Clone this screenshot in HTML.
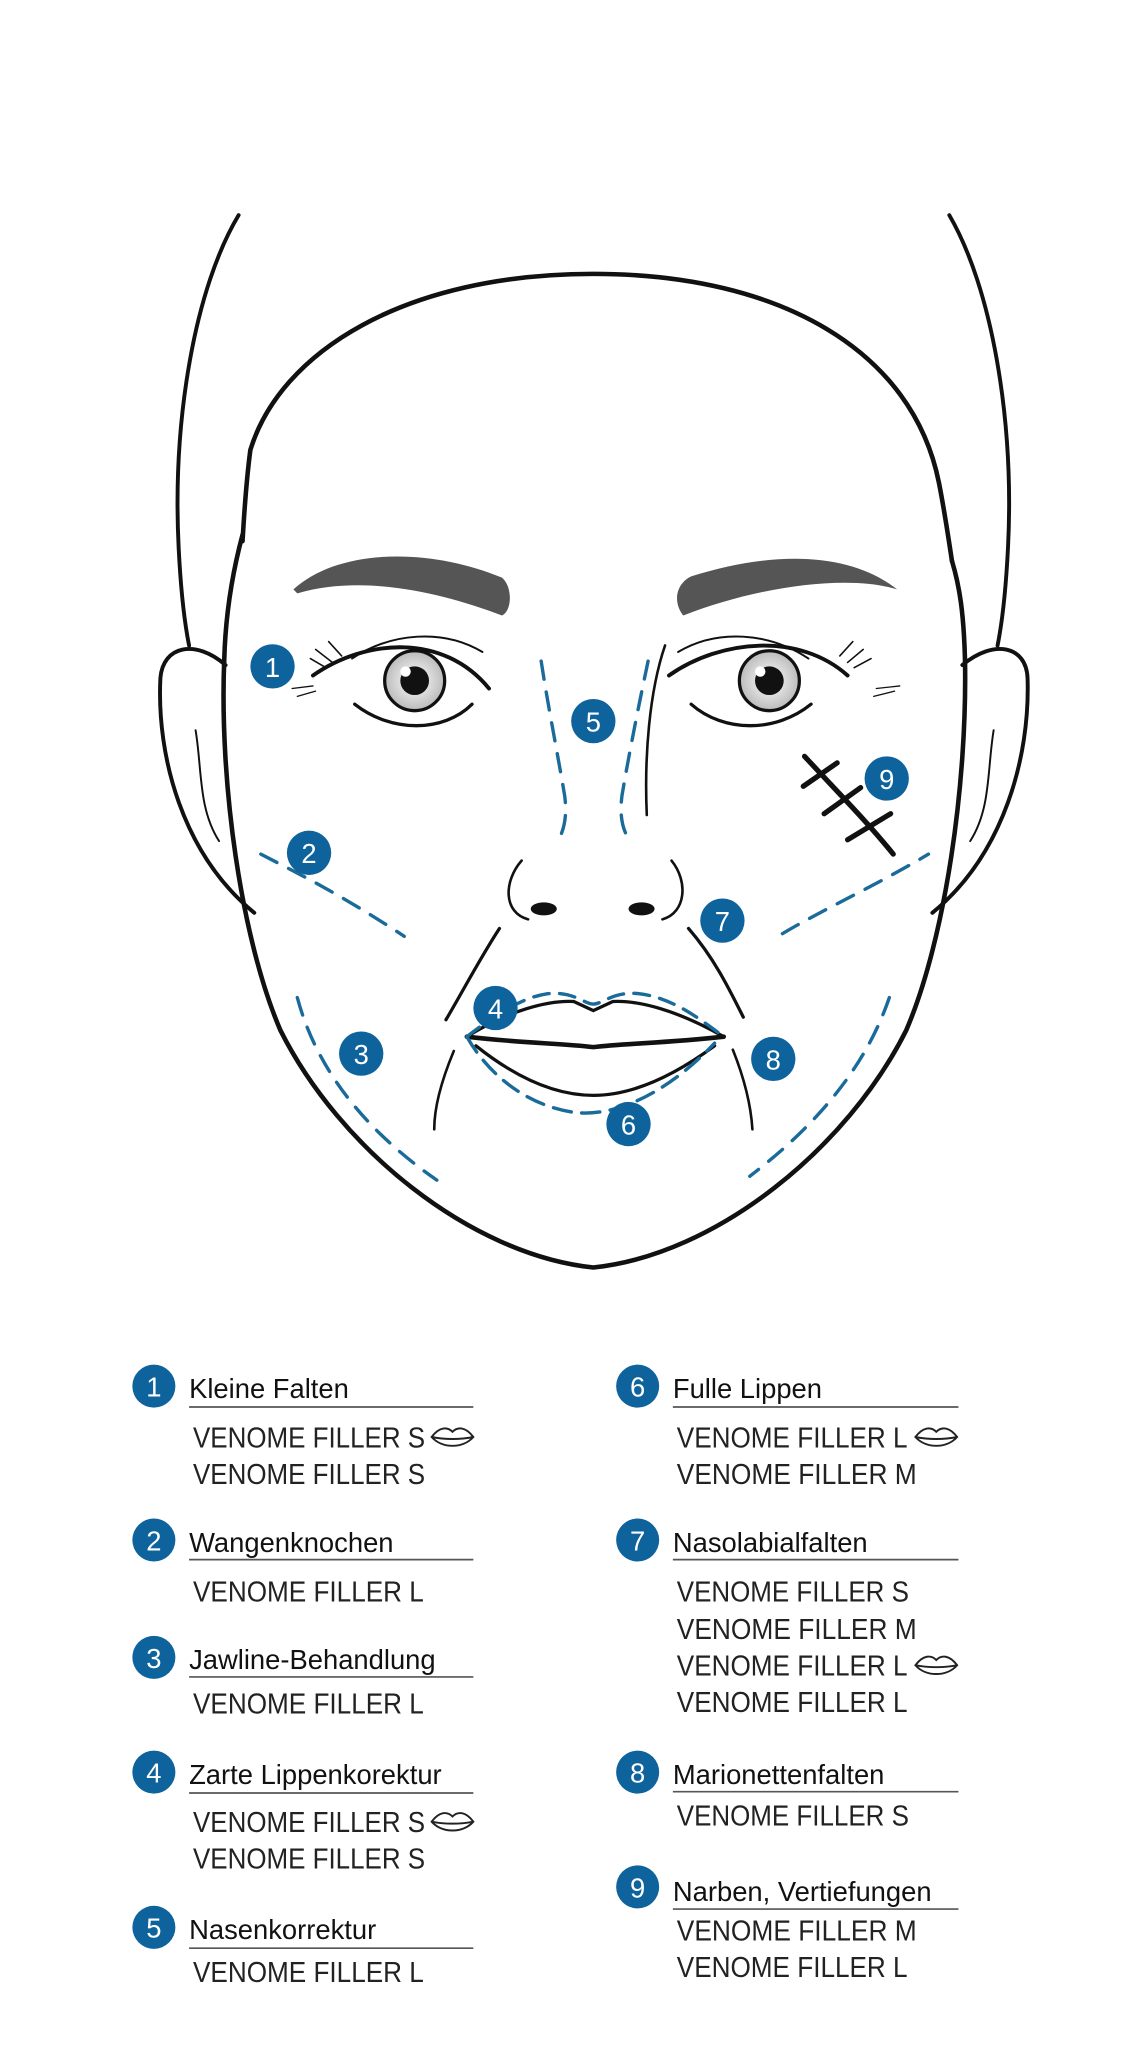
<!DOCTYPE html>
<html><head><meta charset="utf-8"><style>
html,body{margin:0;padding:0;background:#fff;}
svg{display:block;}
.t{font-family:"Liberation Sans",sans-serif;font-size:21px;fill:#111;}
.b{font-family:"Liberation Sans",sans-serif;font-size:22px;fill:#222;}
.n{font-family:"Liberation Sans",sans-serif;font-size:21px;fill:#fff;text-anchor:middle;}
</style></head><body>
<svg width="1141" height="2046" viewBox="0 0 875 1569" xmlns="http://www.w3.org/2000/svg">
<rect width="875" height="1569" fill="#fff"/>
<defs>
<radialGradient id="ir" cx="0.5" cy="0.5" r="0.5"><stop offset="0" stop-color="#fff"/><stop offset="1" stop-color="#bbb"/></radialGradient>
<g id="lip"><path d="M0,0 C6,-8 12,-8 16,-4 C20,-8 26,-8 32,0 C24,9 8,9 0,0 Z M0,0 C10,2 22,2 32,0" fill="none" stroke="#222" stroke-width="1.5"/></g>
</defs>
<g fill="none" stroke="#111" stroke-linecap="round">
<!-- hair -->
<path d="M183,165 C150,220 132,320 137,420 C139,460 142,480 145,495" stroke-width="3"/>
<path d="M728,165 C760,220 778,320 773,420 C771,460 768,480 765,495" stroke-width="3"/>
<!-- face top -->
<path d="M186,415 C188,380 190,360 192,345 C215,270 310,210 455,210 C600,210 700,270 720,370 C724,390 727,410 730,430" stroke-width="3.5"/>
<!-- face sides -->
<path d="M186,410 C178,440 173,470 172,505 C168,600 185,720 215,790 C260,880 360,962 455,972 C550,962 650,880 695,790 C725,720 742,600 740,505 C739,470 736,450 730,430" stroke-width="3.5"/>
<!-- ears -->
<path d="M173,510 C150,490 125,495 123,520 C120,580 140,655 195,700" stroke-width="3"/>
<path d="M150,560 C155,590 152,620 168,645" stroke-width="1.5"/>
<path d="M738,510 C762,490 787,495 788,520 C790,580 770,655 715,700" stroke-width="3"/>
<path d="M762,560 C757,590 760,620 744,645" stroke-width="1.5"/>
<!-- eyes left -->
<path d="M240,518 C280,490 340,485 375,528" stroke-width="3"/>
<path d="M270,505 C300,485 340,482 370,500" stroke-width="1.5"/>
<path d="M272,540 C300,562 340,562 362,540" stroke-width="2.5"/>
<path d="M250,512 L238,505 M255,508 L242,498 M262,503 L252,492" stroke-width="1.2"/>
<path d="M224,528 L240,526 M228,534 L242,530" stroke-width="1"/>
<path d="M513,518 C553,490 613,485 650,518" stroke-width="3"/>
<path d="M520,500 C550,482 590,485 620,505" stroke-width="1.5"/>
<path d="M530,540 C555,562 595,562 622,540" stroke-width="2.5"/>
<path d="M655,512 L668,505 M650,508 L662,498 M644,503 L654,492" stroke-width="1.2"/>
<path d="M672,528 L690,526 M670,534 L686,530" stroke-width="1"/>
<!-- nose -->
<path d="M510,495 C498,530 494,580 496,625" stroke-width="2"/>
<path d="M400,660 C386,676 386,700 405,705" stroke-width="2"/>
<path d="M515,660 C528,676 526,700 508,705" stroke-width="2"/>
<!-- nasolabial / marionette -->
<path d="M383,712 C368,735 355,760 342,782" stroke-width="2.5"/>
<path d="M528,712 C548,735 560,760 570,780" stroke-width="2.5"/>
<path d="M348,806 C338,830 333,850 333,866" stroke-width="2"/>
<path d="M562,805 C572,830 576,850 577,866" stroke-width="2"/>
<!-- mouth -->
<path d="M358,795 C390,775 420,767 440,768 L455,775 L470,768 C490,767 520,775 555,795" stroke-width="2.5"/>
<path d="M358,795 C400,800 430,800 455,803 C480,800 510,800 555,795" stroke-width="3.5"/>
<path d="M365,802 C400,830 430,840 455,840 C480,840 510,830 548,802" stroke-width="2.5"/>
<!-- scar -->
<path d="M617,580 C640,605 665,630 685,655" stroke-width="4"/>
<path d="M616,603 L642,585 M632,624 L660,604 M650,644 L683,624" stroke-width="4"/>
</g>
<!-- eyebrows -->
<path d="M225,452 C260,420 330,420 385,443 C393,450 393,468 385,472 C340,455 280,440 228,455 Z" fill="#555"/>
<path d="M524,472 C516,462 518,448 530,442 C590,423 650,422 688,452 C650,440 580,450 524,472 Z" fill="#555"/>
<!-- irises -->
<circle cx="318" cy="522" r="23" fill="url(#ir)" stroke="#111" stroke-width="2.5"/>
<circle cx="318" cy="522" r="11" fill="#111"/><circle cx="311" cy="515" r="4" fill="#fff"/>
<circle cx="590" cy="522" r="23" fill="url(#ir)" stroke="#111" stroke-width="2.5"/>
<circle cx="590" cy="522" r="11" fill="#111"/><circle cx="583" cy="515" r="4" fill="#fff"/>
<ellipse cx="417" cy="697" rx="10" ry="5" fill="#111"/>
<ellipse cx="492" cy="697" rx="10" ry="5" fill="#111"/>
<!-- blue dashed -->
<g fill="none" stroke="#1a6a9a" stroke-width="2.6" stroke-dasharray="14 10" stroke-linecap="round">
<path d="M415,507 C420,540 428,580 433,610 C435,625 433,637 427,646"/>
<path d="M497,507 C490,540 482,580 477,610 C475,625 477,637 484,646"/>
<path d="M200,655 C225,668 260,685 310,718"/>
<path d="M228,765 C240,810 270,860 335,905"/>
<path d="M600,716 C630,698 670,680 712,655"/>
<path d="M682,765 C665,815 630,860 575,902"/>
<path d="M358,795 C380,778 400,765 420,762 C440,760 448,770 455,770 C462,770 470,760 490,762 C515,765 535,780 555,795" stroke-dasharray="12 8"/>
<path d="M358,795 C375,825 405,848 440,853 C470,857 510,840 548,800" stroke-dasharray="14 8"/>
</g>
<!-- badges -->
<g fill="#0e639c">
<circle cx="209" cy="511" r="17"/><circle cx="237" cy="654" r="17"/><circle cx="277" cy="808" r="17"/>
<circle cx="380" cy="773" r="17"/><circle cx="455" cy="553" r="17"/><circle cx="482" cy="862" r="17"/>
<circle cx="554" cy="706" r="17"/><circle cx="593" cy="812" r="17"/><circle cx="680" cy="597" r="17"/>
</g>
<g class="n">
<text x="209" y="519">1</text><text x="237" y="662">2</text><text x="277" y="816">3</text>
<text x="380" y="781">4</text><text x="455" y="561">5</text><text x="482" y="870">6</text>
<text x="554" y="714">7</text><text x="593" y="820">8</text><text x="680" y="605">9</text>
</g>
<!-- legend badges -->
<g fill="#0e639c">
<circle cx="118" cy="1063" r="16.5"/><circle cx="118" cy="1181" r="16.5"/><circle cx="118" cy="1271" r="16.5"/>
<circle cx="118" cy="1359" r="16.5"/><circle cx="118" cy="1478" r="16.5"/>
<circle cx="489" cy="1063" r="16.5"/><circle cx="489" cy="1181" r="16.5"/><circle cx="489" cy="1359" r="16.5"/><circle cx="489" cy="1447" r="16.5"/>
</g>
<g class="n">
<text x="118" y="1071">1</text><text x="118" y="1189">2</text><text x="118" y="1279">3</text><text x="118" y="1367">4</text><text x="118" y="1486">5</text>
<text x="489" y="1071">6</text><text x="489" y="1189">7</text><text x="489" y="1367">8</text><text x="489" y="1455">9</text>
</g>
<g stroke="#555" stroke-width="1.3">
<line x1="145" y1="1079" x2="363" y2="1079"/><line x1="145" y1="1196" x2="363" y2="1196"/>
<line x1="145" y1="1286" x2="363" y2="1286"/><line x1="145" y1="1375" x2="363" y2="1375"/>
<line x1="145" y1="1494" x2="363" y2="1494"/>
<line x1="516" y1="1079" x2="735" y2="1079"/><line x1="516" y1="1196" x2="735" y2="1196"/>
<line x1="516" y1="1374" x2="735" y2="1374"/><line x1="516" y1="1464" x2="735" y2="1464"/>
</g>
<g class="t">
<text x="145" y="1072">Kleine Falten</text>
<text x="145" y="1190">Wangenknochen</text>
<text x="145" y="1280">Jawline-Behandlung</text>
<text x="145" y="1368">Zarte Lippenkorektur</text>
<text x="145" y="1487">Nasenkorrektur</text>
<text x="516" y="1072">Fulle Lippen</text>
<text x="516" y="1190">Nasolabialfalten</text>
<text x="516" y="1368">Marionettenfalten</text>
<text x="516" y="1458">Narben, Vertiefungen</text>
</g>
<g class="b" lengthAdjust="spacingAndGlyphs">
<text x="148" y="1110" textLength="178" lengthAdjust="spacingAndGlyphs">VENOME FILLER S</text>
<text x="148" y="1138" textLength="178" lengthAdjust="spacingAndGlyphs">VENOME FILLER S</text>
<text x="148" y="1228" textLength="177" lengthAdjust="spacingAndGlyphs">VENOME FILLER L</text>
<text x="148" y="1314" textLength="177" lengthAdjust="spacingAndGlyphs">VENOME FILLER L</text>
<text x="148" y="1405" textLength="178" lengthAdjust="spacingAndGlyphs">VENOME FILLER S</text>
<text x="148" y="1433" textLength="178" lengthAdjust="spacingAndGlyphs">VENOME FILLER S</text>
<text x="148" y="1520" textLength="177" lengthAdjust="spacingAndGlyphs">VENOME FILLER L</text>
<text x="519" y="1110" textLength="177" lengthAdjust="spacingAndGlyphs">VENOME FILLER L</text>
<text x="519" y="1138" textLength="184" lengthAdjust="spacingAndGlyphs">VENOME FILLER M</text>
<text x="519" y="1228" textLength="178" lengthAdjust="spacingAndGlyphs">VENOME FILLER S</text>
<text x="519" y="1257" textLength="184" lengthAdjust="spacingAndGlyphs">VENOME FILLER M</text>
<text x="519" y="1285" textLength="177" lengthAdjust="spacingAndGlyphs">VENOME FILLER L</text>
<text x="519" y="1313" textLength="177" lengthAdjust="spacingAndGlyphs">VENOME FILLER L</text>
<text x="519" y="1400" textLength="178" lengthAdjust="spacingAndGlyphs">VENOME FILLER S</text>
<text x="519" y="1488" textLength="184" lengthAdjust="spacingAndGlyphs">VENOME FILLER M</text>
<text x="519" y="1516" textLength="177" lengthAdjust="spacingAndGlyphs">VENOME FILLER L</text>
</g>
<use href="#lip" x="331" y="1102"/>
<use href="#lip" x="331" y="1397"/>
<use href="#lip" x="702" y="1102"/>
<use href="#lip" x="702" y="1277"/>
</svg>
</body></html>
